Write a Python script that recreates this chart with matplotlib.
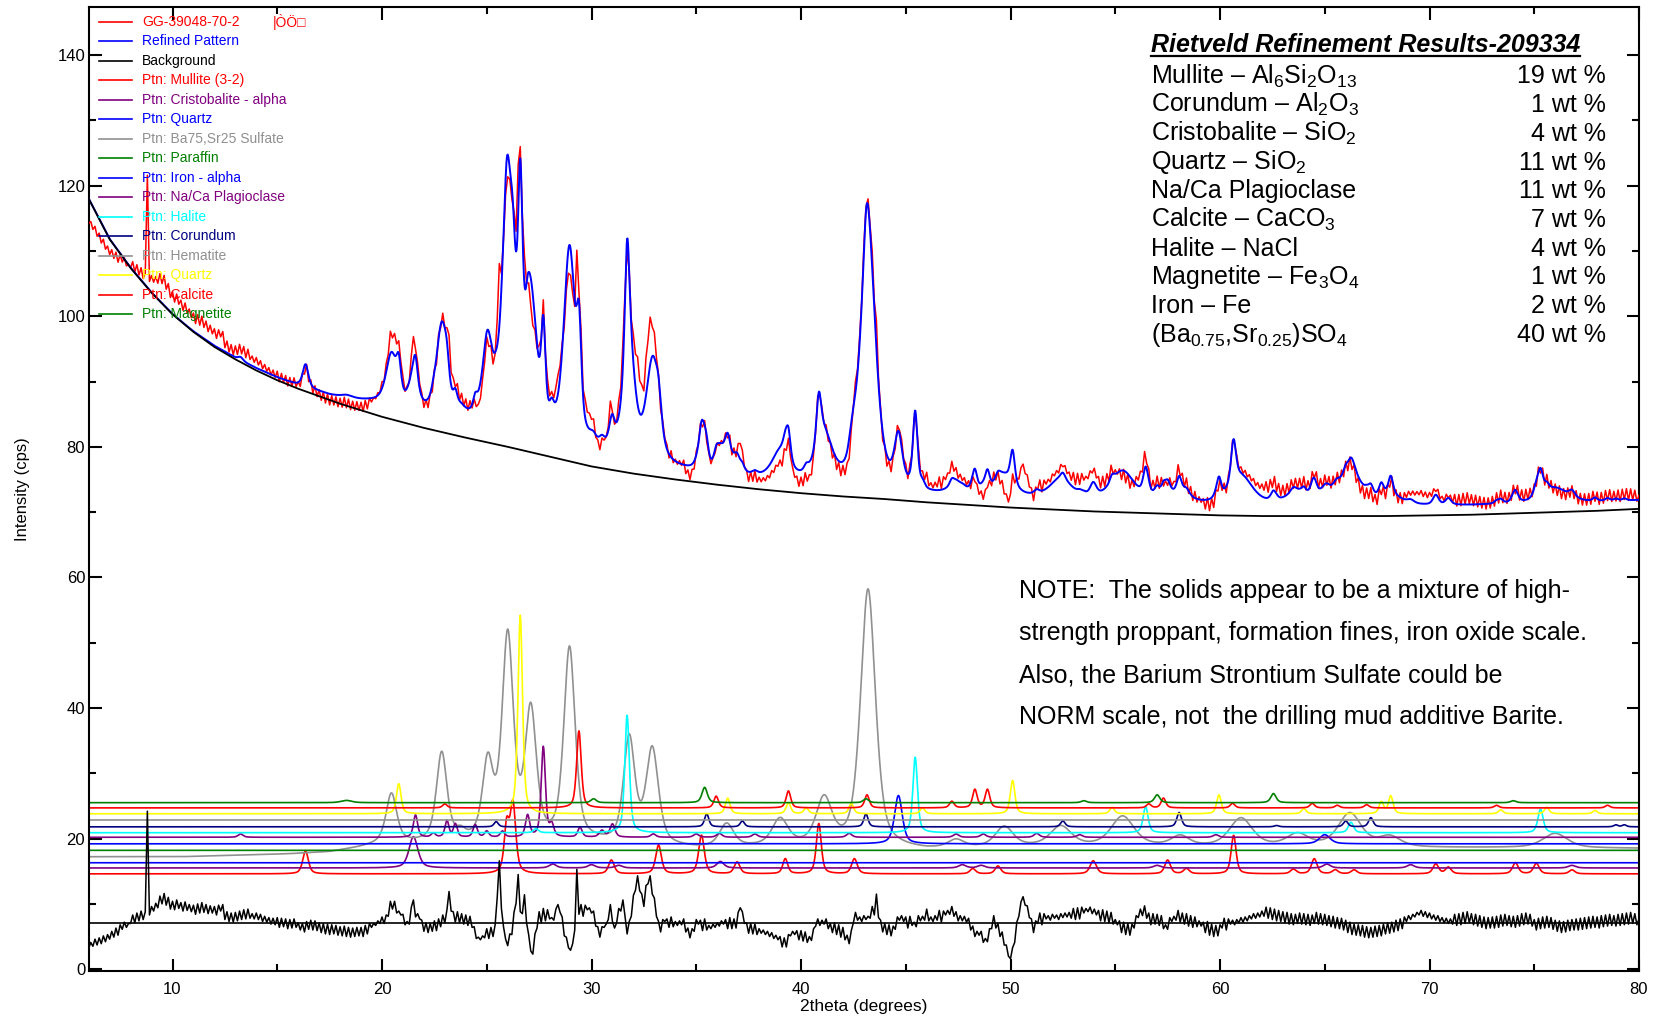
import numpy as np
import matplotlib.pyplot as plt
from matplotlib.lines import Line2D
from matplotlib.ticker import MultipleLocator

plt.rcParams['font.family'] = ['Liberation Sans', 'DejaVu Sans']
plt.rcParams['mathtext.fontset'] = 'custom'
plt.rcParams['mathtext.rm'] = 'Liberation Sans'
plt.rcParams['mathtext.it'] = 'Liberation Sans:italic'
plt.rcParams['mathtext.bf'] = 'Liberation Sans:bold'

# background of the refinement (2theta, cps)
bg_x = [6, 7, 8, 9, 10, 11, 12, 13, 14, 15, 16, 18, 20, 22, 24, 26, 28, 30, 32, 34, 36,
        38, 40, 42, 44, 46, 48, 50, 52, 54, 56, 58, 60, 62, 64, 66, 68, 70, 72, 74, 76, 78, 80]
bg_y = [118.0, 111.8, 107.4, 103.6, 100.3, 97.6, 95.3, 93.4, 91.7, 90.2, 88.9, 86.6, 84.6,
        82.9, 81.4, 80.0, 78.5, 77.0, 75.9, 75.0, 74.2, 73.5, 72.9, 72.4, 72.0, 71.5, 71.1,
        70.7, 70.4, 70.1, 69.9, 69.7, 69.5, 69.4, 69.4, 69.4, 69.4, 69.5, 69.6, 69.8, 70.0,
        70.2, 70.5]

# difference curve (obs - calc, shifted), one value every 0.1 deg from 6.0 to 80.0
diff_zero = 7.0
diff_curve = [
    3.2, 4.1, 3.5, 4.6, 3.7, 4.8, 3.9, 5.1, 4.2, 5.3,
    4.6, 5.8, 4.9, 6.3, 5.2, 6.8, 6.1, 7.2, 6.4, 7.0,
    7.0, 8.3, 7.1, 8.6, 7.4, 8.9, 7.6, 8.8, 24.2, 8.3,
    9.6, 8.9, 10.1, 9.4, 11.2, 10.0, 11.6, 9.8, 11.0, 9.2,
    10.4, 9.1, 10.6, 9.3, 10.2, 8.9, 10.3, 9.0, 9.9, 8.8,
    9.8, 8.4, 10.0, 8.6, 10.2, 8.7, 9.9, 8.5, 9.7, 8.6,
    9.6, 8.3, 9.8, 8.9, 9.9, 7.6, 8.8, 7.3, 8.6, 7.2,
    8.7, 7.4, 8.9, 7.6, 9.1, 7.7, 9.2, 7.8, 8.5, 7.7,
    8.6, 7.6, 8.4, 7.3, 8.1, 7.2, 7.9, 6.9, 7.8, 6.8,
    7.9, 6.4, 7.8, 6.5, 7.7, 6.2, 7.6, 6.3, 7.7, 6.4,
    7.1, 6.0, 7.0, 5.7, 7.3, 6.1, 7.5, 6.0, 7.4, 5.9,
    7.1, 5.6, 7.0, 5.4, 6.9, 5.3, 6.8, 5.4, 6.7, 5.2,
    6.5, 5.1, 6.6, 5.0, 6.4, 4.9, 6.3, 5.0, 6.4, 5.1,
    6.4, 5.0, 6.7, 5.4, 7.0, 6.4, 7.0, 6.7, 7.4, 7.0,
    8.0, 7.0, 8.3, 8.1, 10.4, 9.2, 10.4, 8.6, 8.9, 8.3,
    8.4, 6.8, 7.3, 6.9, 9.5, 10.6, 8.0, 8.5, 7.7, 7.5,
    5.8, 7.1, 5.6, 7.0, 5.8, 7.4, 5.9, 7.7, 6.5, 8.3,
    7.1, 9.1, 11.9, 8.9, 8.8, 7.2, 8.8, 7.1, 8.5, 6.9,
    8.3, 6.7, 8.1, 6.4, 6.5, 4.7, 4.9, 4.5, 5.1, 4.8,
    6.2, 4.7, 6.4, 5.0, 6.8, 11.0, 16.6, 9.3, 6.5, 4.6,
    3.6, 5.4, 5.3, 8.7, 10.1, 14.5, 8.8, 8.5, 11.4, 7.1,
    5.3, 2.8, 2.3, 5.4, 6.3, 8.8, 7.1, 9.3, 7.4, 9.1,
    7.7, 7.9, 7.5, 9.2, 9.9, 8.7, 8.0, 5.1, 4.9, 3.3,
    2.9, 3.9, 6.0, 15.3, 8.4, 9.9, 8.1, 9.8, 9.1, 9.4,
    8.6, 8.9, 6.6, 6.5, 4.9, 6.5, 6.4, 6.9, 7.6, 9.9,
    7.3, 6.3, 7.1, 9.3, 8.9, 10.6, 8.1, 5.4, 7.3, 8.1,
    11.3, 12.1, 14.3, 12.0, 11.5, 9.6, 12.8, 13.1, 14.3, 11.5,
    10.9, 8.1, 7.3, 5.7, 7.6, 7.3, 7.7, 6.4, 8.0, 6.5,
    7.3, 6.7, 7.4, 6.8, 7.7, 5.7, 6.3, 4.8, 6.2, 5.8,
    7.6, 6.9, 7.5, 5.9, 7.7, 6.0, 6.7, 6.2, 6.9, 6.4,
    7.1, 6.6, 7.4, 6.9, 7.6, 6.2, 7.9, 6.2, 7.7, 6.3,
    8.7, 9.4, 8.8, 7.0, 7.1, 5.5, 7.0, 5.4, 6.9, 5.3,
    6.2, 5.5, 6.0, 5.3, 5.8, 5.0, 5.6, 4.7, 5.2, 4.5,
    5.0, 3.4, 4.8, 3.4, 5.3, 5.1, 5.8, 5.3, 5.9, 4.5,
    5.9, 4.3, 5.7, 4.1, 5.0, 4.4, 6.2, 6.6, 7.7, 6.7,
    7.5, 6.9, 7.7, 6.2, 7.0, 5.6, 7.1, 5.3, 6.8, 4.9,
    6.4, 4.5, 5.2, 3.9, 5.9, 7.1, 8.7, 7.5, 8.0, 7.3,
    8.2, 7.6, 8.1, 7.8, 9.6, 8.3, 11.5, 7.9, 7.5, 5.7,
    7.0, 5.3, 6.8, 5.1, 6.6, 6.1, 8.0, 7.5, 8.2, 7.3,
    8.0, 6.3, 8.1, 6.7, 7.2, 6.5, 8.2, 7.4, 8.1, 7.5,
    9.2, 7.4, 8.0, 7.3, 8.2, 7.5, 9.0, 7.2, 8.9, 8.3,
    9.0, 8.4, 9.6, 8.1, 8.8, 7.4, 8.2, 7.4, 8.1, 7.2,
    7.8, 6.0, 6.6, 5.0, 5.8, 5.2, 5.8, 4.1, 4.7, 4.2,
    6.2, 6.2, 8.2, 6.3, 7.0, 5.0, 5.7, 3.7, 3.7, 2.0,
    1.6, 3.3, 4.1, 7.2, 8.1, 10.3, 11.1, 9.8, 9.7, 7.9,
    7.7, 5.6, 7.4, 7.0, 8.6, 6.8, 8.5, 7.7, 8.2, 7.5,
    8.4, 7.8, 8.3, 7.6, 8.5, 7.9, 8.6, 8.0, 8.7, 7.8,
    9.3, 7.6, 9.4, 7.7, 9.5, 8.6, 9.3, 8.8, 9.5, 8.5,
    9.2, 8.3, 9.0, 7.4, 9.1, 7.3, 8.9, 7.1, 8.7, 6.9,
    7.6, 6.8, 7.4, 5.6, 7.2, 5.3, 7.0, 5.2, 6.9, 6.3,
    8.2, 7.9, 9.2, 8.2, 9.7, 7.8, 8.6, 6.8, 8.5, 6.9,
    8.4, 6.7, 8.2, 6.2, 6.8, 6.1, 7.9, 7.3, 8.1, 7.5,
    9.0, 7.2, 8.6, 6.9, 8.5, 6.6, 8.2, 6.4, 8.0, 6.5,
    7.4, 6.6, 7.2, 5.6, 7.3, 5.2, 6.9, 5.0, 6.7, 5.1,
    6.8, 6.3, 7.8, 6.0, 7.7, 6.9, 7.5, 6.8, 7.6, 7.1,
    7.9, 7.2, 8.0, 7.4, 8.2, 7.7, 8.5, 7.8, 8.6, 8.0,
    8.9, 8.1, 9.5, 7.8, 9.4, 7.6, 9.2, 7.4, 9.0, 7.3,
    8.8, 7.1, 8.7, 6.9, 8.5, 6.8, 8.4, 7.0, 8.6, 6.9,
    8.5, 6.8, 8.4, 6.7, 8.3, 7.0, 8.7, 6.9, 8.5, 6.8,
    8.4, 6.7, 8.2, 6.5, 8.1, 6.3, 7.9, 6.2, 7.8, 6.0,
    7.5, 5.6, 7.2, 5.3, 6.9, 5.2, 6.8, 5.1, 6.7, 4.9,
    6.5, 4.8, 6.4, 4.9, 6.6, 5.0, 6.7, 5.1, 6.9, 5.4,
    7.1, 5.5, 7.2, 5.7, 7.5, 5.9, 7.7, 6.2, 8.0, 7.3,
    8.2, 7.6, 8.4, 8.0, 8.7, 8.3, 9.0, 8.1, 8.8, 7.9,
    8.6, 7.7, 8.3, 7.5, 8.2, 7.3, 7.9, 7.1, 7.8, 7.0,
    7.7, 6.9, 8.4, 6.7, 8.5, 6.8, 8.7, 7.0, 8.8, 7.1,
    8.5, 6.8, 8.4, 6.6, 8.2, 6.4, 8.0, 6.2, 7.9, 6.3,
    8.0, 6.3, 8.1, 6.4, 8.3, 6.6, 8.4, 6.7, 8.2, 6.5,
    8.1, 6.4, 8.2, 6.6, 8.5, 6.8, 8.6, 6.9, 8.4, 6.6,
    7.6, 6.0, 7.8, 6.2, 8.0, 6.3, 8.1, 6.4, 7.9, 6.1,
    7.5, 5.8, 7.4, 5.6, 7.3, 5.7, 7.5, 5.9, 7.6, 6.0,
    7.7, 6.0, 7.8, 6.1, 7.9, 6.2, 8.0, 6.3, 8.1, 6.4,
    8.0, 6.3, 8.2, 6.5, 8.3, 6.6, 8.4, 6.7, 8.2, 6.6,
    8.4, 6.7, 8.5, 6.8, 8.6, 6.9, 8.7, 7.0, 8.5, 6.8,
    7.7,
]

# phase peak tables: (2theta, height, half width)
mullite = [(16.35, 3.5, 0.16), (25.95, 7.0, 0.14), (26.25, 10.5, 0.16), (30.95, 2.1, 0.16),
           (33.2, 4.4, 0.16), (35.25, 5.9, 0.16), (36.95, 1.8, 0.16), (39.25, 2.3, 0.14),
           (40.85, 7.7, 0.14), (42.55, 2.3, 0.16), (48.2, 0.8, 0.16), (49.4, 1.2, 0.16),
           (53.95, 2.0, 0.18), (57.5, 2.1, 0.16), (58.4, 0.8, 0.16), (60.65, 5.9, 0.14),
           (63.5, 0.7, 0.16), (64.5, 2.3, 0.16), (65.5, 0.6, 0.16), (66.4, 0.6, 0.16),
           (70.3, 1.5, 0.16), (70.9, 1.0, 0.16), (74.1, 1.7, 0.16), (75.1, 1.6, 0.16),
           (76.8, 0.6, 0.16)]
cristobalite = [(21.5, 4.8, 0.25), (28.15, 0.6, 0.2), (30.0, 0.5, 0.2), (31.3, 0.4, 0.2),
                (36.15, 1.0, 0.2), (47.7, 0.5, 0.2), (48.6, 0.4, 0.2), (57.0, 0.4, 0.2),
                (65.1, 0.6, 0.2), (69.1, 0.5, 0.2), (76.8, 0.4, 0.2)]
quartz_b = []
sulfate = [(20.45, 7.5, 0.3), (22.85, 13.5, 0.3), (23.75, 1.0, 0.25), (25.05, 11.5, 0.3),
           (26.0, 31.0, 0.32), (27.1, 19.5, 0.32), (28.95, 29.5, 0.32), (31.8, 16.0, 0.32),
           (32.9, 14.5, 0.35), (36.45, 3.5, 0.4), (39.0, 4.0, 0.45), (41.1, 7.0, 0.45),
           (43.2, 39.5, 0.42), (47.4, 1.2, 0.45), (49.7, 3.0, 0.5), (52.4, 3.0, 0.6),
           (55.35, 4.5, 0.65), (58.1, 1.5, 0.5), (61.0, 4.3, 0.65), (63.7, 1.8, 0.6),
           (66.2, 5.0, 0.65), (68.1, 1.5, 0.6), (76.0, 2.2, 0.7)]
sulfate_floor_x = [6, 10.5, 13, 15.5, 17.5, 19, 20, 24, 30, 35, 40, 46, 50, 56, 60, 66, 70, 74, 80]
sulfate_floor_y = [0, 0, 0.2, 0.4, 0.7, 1.4, 2.0, 2.2, 2.0, 1.2, 1.6, 1.0, 1.5, 1.6, 1.5, 1.6,
                   1.4, 1.4, 1.3]
paraffin = []
iron = [(44.65, 7.4, 0.22), (65.0, 1.4, 0.3)]
plagioclase = [(13.25, 0.5, 0.14), (21.6, 3.4, 0.12), (22.45, 0.6, 0.12), (23.1, 2.5, 0.11),
               (23.5, 2.0, 0.11), (24.45, 1.9, 0.12), (25.0, 0.9, 0.12), (25.75, 0.9, 0.12),
               (26.95, 3.3, 0.12), (27.7, 13.8, 0.12), (28.1, 1.8, 0.12), (29.45, 1.5, 0.12),
               (30.5, 1.0, 0.15), (31.0, 2.0, 0.14), (32.95, 0.5, 0.14), (35.0, 0.5, 0.15),
               (36.1, 0.6, 0.15), (37.8, 0.5, 0.15), (42.3, 0.6, 0.15), (47.4, 0.5, 0.15),
               (48.7, 0.5, 0.15), (51.25, 0.6, 0.15), (53.3, 0.4, 0.15), (59.8, 0.4, 0.15)]
halite = [(27.35, 0.6, 0.14), (31.7, 18.0, 0.13), (45.45, 11.6, 0.13), (56.45, 4.0, 0.14),
          (66.25, 1.6, 0.15), (75.3, 3.6, 0.15)]
corundum = [(25.45, 0.8, 0.12), (35.5, 2.0, 0.12), (37.2, 0.9, 0.12), (43.1, 2.0, 0.12),
            (52.5, 0.9, 0.13), (58.05, 2.2, 0.13), (62.7, 0.2, 0.13), (66.0, 0.9, 0.13),
            (67.2, 1.4, 0.13), (78.9, 0.3, 0.12), (79.3, 0.3, 0.12)]
hematite = []
quartz_y = [(20.8, 4.6, 0.13), (26.6, 30.4, 0.13), (36.5, 2.4, 0.13), (39.4, 1.7, 0.13),
            (40.25, 0.9, 0.13), (42.4, 1.6, 0.13), (45.8, 0.9, 0.13), (50.1, 5.1, 0.13),
            (54.85, 1.0, 0.13), (59.95, 2.9, 0.13), (64.0, 0.8, 0.13), (67.7, 1.8, 0.13),
            (68.15, 2.7, 0.13), (73.4, 0.6, 0.13), (75.6, 1.0, 0.13), (77.9, 0.5, 0.13)]
calcite = [(23.0, 0.6, 0.13), (29.4, 11.8, 0.13), (35.95, 1.8, 0.13), (39.4, 2.6, 0.13),
           (43.15, 2.0, 0.13), (47.2, 1.0, 0.13), (48.3, 2.8, 0.13), (48.9, 2.8, 0.13),
           (56.6, 0.6, 0.13), (57.3, 1.5, 0.13), (60.6, 0.7, 0.13), (64.4, 0.7, 0.13),
           (65.6, 0.4, 0.13), (67.0, 0.5, 0.13), (73.2, 0.4, 0.13), (78.5, 0.4, 0.13)]
magnetite = [(18.3, 0.35, 0.3), (30.1, 0.6, 0.15), (35.4, 2.35, 0.15), (43.1, 0.6, 0.15),
             (53.5, 0.3, 0.15), (57.0, 1.2, 0.15), (62.55, 1.4, 0.15), (74.0, 0.3, 0.15)]

phase_names = ['Ptn: Mullite (3-2)', 'Ptn: Cristobalite - alpha', 'Ptn: Quartz',
               'Ptn: Ba75,Sr25 Sulfate', 'Ptn: Paraffin', 'Ptn: Iron - alpha',
               'Ptn: Na/Ca Plagioclase', 'Ptn: Halite', 'Ptn: Corundum', 'Ptn: Hematite',
               'Ptn: Quartz', 'Ptn: Calcite', 'Ptn: Magnetite']
phase_peaks = [mullite, cristobalite, quartz_b, sulfate, paraffin, iron, plagioclase,
               halite, corundum, hematite, quartz_y, calcite, magnetite]
phase_offsets = [14.6, 15.5, 16.3, 17.2, 18.2, 19.2, 20.2, 20.9, 21.8, 22.85, 23.8, 24.7, 25.5]
phase_colors = ['#ff0000', '#800080', '#0000ff', '#909090', '#008000', '#0000ff', '#800080',
                '#00ffff', '#000080', '#909090', '#ffff00', '#ff0000', '#008000']

wt_rows = [r'Mullite – Al$_{6}$Si$_{2}$O$_{13}$', r'Corundum – Al$_{2}$O$_{3}$',
           r'Cristobalite – SiO$_{2}$', r'Quartz – SiO$_{2}$', 'Na/Ca Plagioclase',
           r'Calcite – CaCO$_{3}$', 'Halite – NaCl', r'Magnetite – Fe$_{3}$O$_{4}$',
           'Iron – Fe', r'(Ba$_{0.75}$,Sr$_{0.25}$)SO$_{4}$']
wt_pct = [19, 1, 4, 11, 11, 7, 4, 1, 2, 40]

note_lines = ['NOTE:  The solids appear to be a mixture of high-',
              'strength proppant, formation fines, iron oxide scale.',
              'Also, the Barium Strontium Sulfate could be',
              'NORM scale, not  the drilling mud additive Barite.']


def profile(x, peaks):
    y = np.zeros_like(x)
    for pos, h, w in peaks:
        u = ((x - pos) / w) ** 2
        y += h * (0.45 * np.exp(-np.log(2) * u) + 0.55 / (1 + u))
    return y


def contribution(x, i):
    y = profile(x, phase_peaks[i])
    if phase_peaks[i] is sulfate:
        y += np.interp(x, sulfate_floor_x, sulfate_floor_y)
    return y


def calculated(x):
    y = np.interp(x, bg_x, bg_y)
    for i in range(len(phase_peaks)):
        y = y + contribution(x, i)
    return y


x_fine = np.arange(6.0, 80.0001, 0.02)
x_obs = 6.0 + 0.1 * np.arange(len(diff_curve))
diff = np.array(diff_curve)
observed = calculated(x_obs) + diff - diff_zero
refined = calculated(x_fine)

W, H = 1659, 1018
fig = plt.figure(figsize=(W / 100, H / 100), dpi=100)
ax = fig.add_axes([88.7 / W, 1 - 971 / H, (1639 - 88.7) / W, (971 - 7.4) / H])

for i in range(len(phase_peaks)):
    ax.plot(x_fine, phase_offsets[i] + contribution(x_fine, i), color=phase_colors[i],
            lw=1.2, zorder=2)
ax.plot(x_obs, diff, color='black', lw=1.1, zorder=2)
ax.axhline(diff_zero, color='black', lw=1.2, zorder=2)
ax.plot(x_obs, observed, color='#ff0000', lw=1.1, zorder=3)
ax.plot(x_fine, refined, color='#0000ff', lw=1.4, zorder=4)
ax.plot(bg_x, bg_y, color='black', lw=1.3, zorder=5)

ax.set_xlim(6, 80)
ax.set_ylim(-0.28, 147.3)
ax.xaxis.set_major_locator(MultipleLocator(10))
ax.xaxis.set_minor_locator(MultipleLocator(5))
ax.yaxis.set_major_locator(MultipleLocator(20))
ax.yaxis.set_minor_locator(MultipleLocator(10))
ax.tick_params(which='both', direction='in', top=True, right=True, width=1.5, labelsize=12)
ax.tick_params(which='major', length=9)
ax.tick_params(which='minor', length=5)
ax.tick_params(axis='x', pad=8)
ax.tick_params(axis='y', pad=2.5)
for s in ax.spines.values():
    s.set_linewidth(1.5)
ax.set_xlabel('2theta (degrees)', fontsize=12.5, labelpad=1)
ax.set_ylabel('Intensity (cps)', fontsize=12, labelpad=20)

# legend down the left side
leg_labels = ['GG-39048-70-2', 'Refined Pattern', 'Background'] + phase_names
leg_colors = ['#ff0000', '#0000ff', 'black'] + phase_colors
for i, (lab, c) in enumerate(zip(leg_labels, leg_colors)):
    yy = 1 - (22 + 19.47 * i) / H
    fig.add_artist(Line2D([99 / W, 132 / W], [yy, yy], color=c, lw=1.2))
    fig.text(142 / W, yy, lab, color=c, fontsize=10, va='center')
fig.text(273 / W, 1 - 22 / H, '|ÒÖ□', color='#ff0000', fontsize=10, va='center')

# refinement results table
title = fig.text(1151 / W, 1 - 52.5 / H, 'Rietveld Refinement Results-209334', fontsize=18,
                 fontweight='bold', fontstyle='italic', va='baseline')
for i, (row, pct) in enumerate(zip(wt_rows, wt_pct)):
    yy = 1 - (83.4 + 28.7 * i) / H
    fig.text(1151 / W, yy, row, fontsize=18, va='baseline')
    fig.text(1606 / W, yy, f'{pct} wt %', fontsize=18, va='baseline', ha='right')

for i, line in enumerate(note_lines):
    fig.text(1019 / W, 1 - (598 + 42 * i) / H, line, fontsize=18, va='baseline')

fig.canvas.draw()
bb = title.get_window_extent()
fig.add_artist(Line2D([bb.x0 / W, bb.x1 / W], [1 - 56 / H, 1 - 56 / H],
                      color='black', lw=1.6))

fig.savefig('out.png', dpi=100)
